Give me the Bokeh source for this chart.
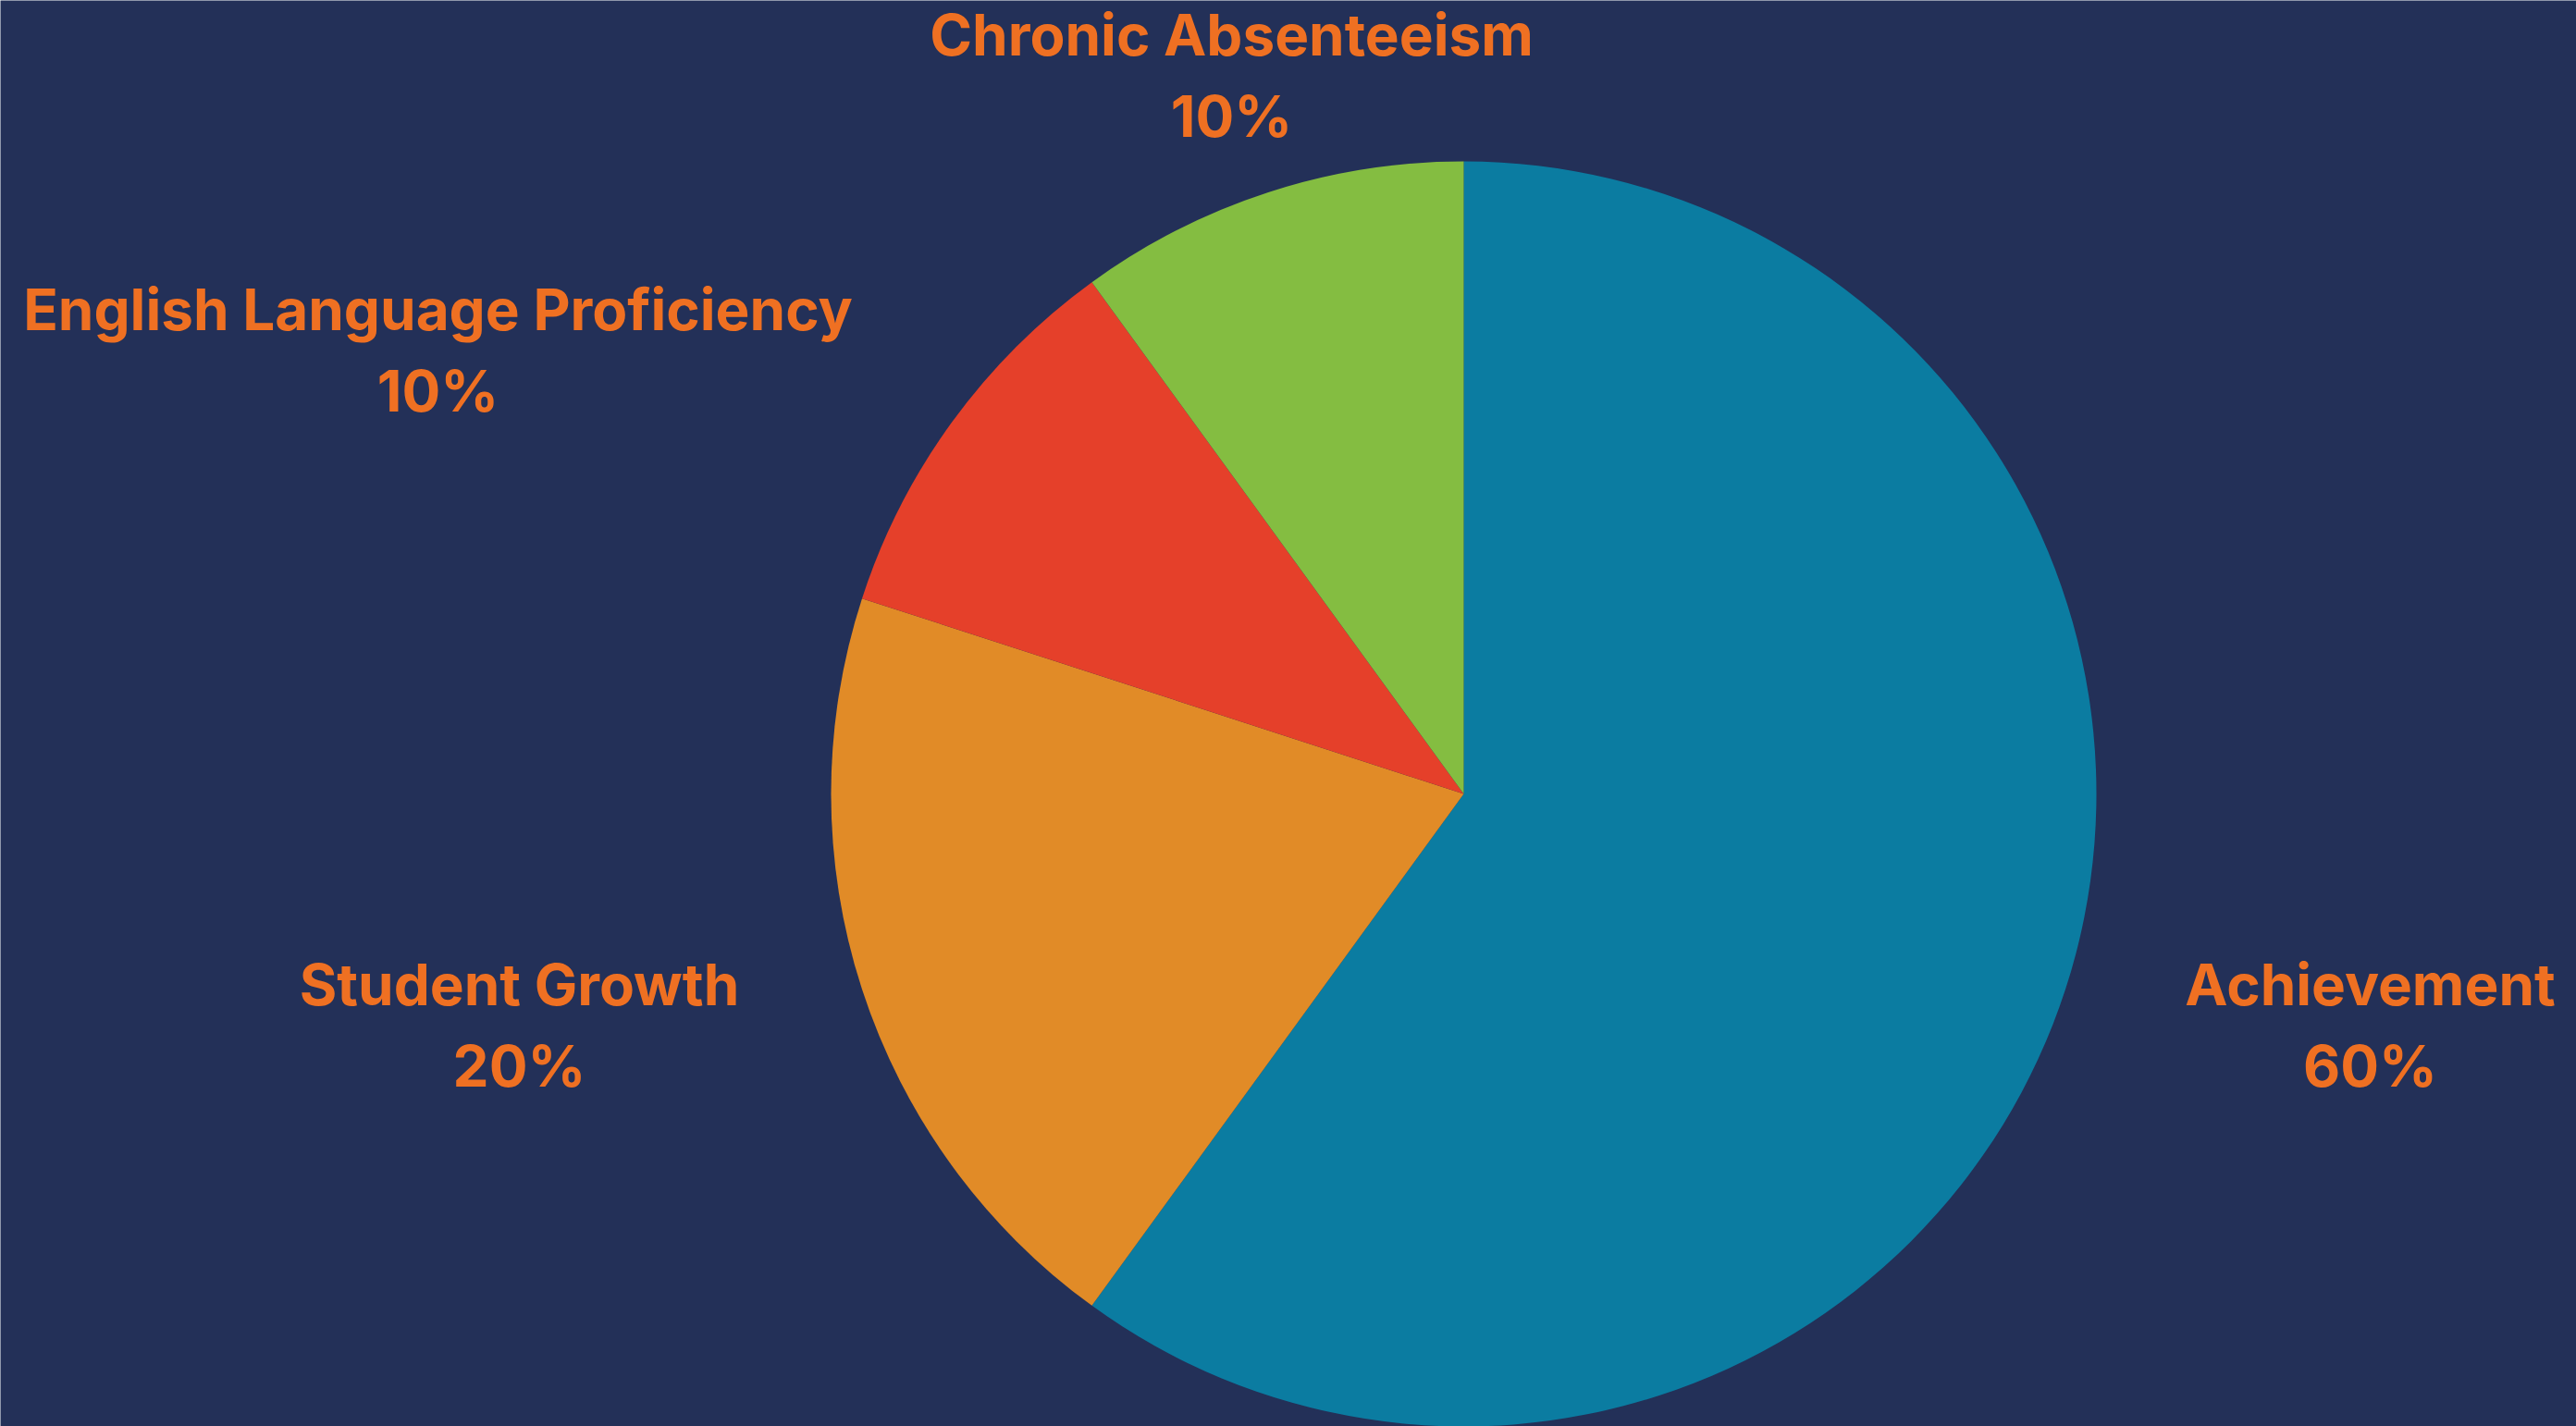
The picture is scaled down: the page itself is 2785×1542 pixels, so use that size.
import math
from bokeh.plotting import figure
from bokeh.models import Range1d, ColumnDataSource
from bokeh.core.properties import value
from bokeh.embed import file_html
from bokeh.resources import INLINE

# ---- data ----
categories = ["Achievement", "Student Growth", "English Language Proficiency", "Chronic Absenteeism"]
shares = [60, 20, 10, 10]
colors = ["#0b7ca1", "#e18b27", "#e5402a", "#84bd41"]

# ---- layout ----
W, H = 2785, 1542
cx, cy, r = 1582, H - 858, 684
# label anchor (pixel coords of the name line centre)
label_pos = [(2562, 1064), (561, 1064), (473, 334), (1331, 37)]
line_gap = 88

total = float(sum(shares))
starts, ends = [], []
acc = 0.0
for s in shares:
    starts.append(math.pi / 2 - 2 * math.pi * acc / total)
    acc += s
    ends.append(math.pi / 2 - 2 * math.pi * acc / total)

src = ColumnDataSource(dict(x=[cx] * len(shares), y=[cy] * len(shares),
                            start=starts, end=ends, color=colors))

p = figure(width=W, height=H, output_backend="svg", toolbar_location=None,
           x_range=Range1d(0, W), y_range=Range1d(0, H), min_border=0)
p.axis.visible = False
p.grid.visible = False
p.outline_line_color = None
p.background_fill_color = "#233058"
p.border_fill_color = "#233058"

p.wedge(x="x", y="y", radius=r, start_angle="start", end_angle="end",
        direction="clock", fill_color="color", line_color=None, source=src)

lx = [pos[0] for pos in label_pos]
ly_name = [H - pos[1] for pos in label_pos]
ly_pct = [H - pos[1] - line_gap for pos in label_pos]
pct_text = ["%d%%" % s for s in shares]

common = dict(text_align="center", text_baseline="middle", text_color="#ef7022",
              text_font=value("Inter"), text_font_style="bold", text_font_size="62px")
p.text(x=lx, y=ly_name, text=categories, **common)
p.text(x=lx, y=ly_pct, text=pct_text, **common)

open("out.html", "w").write(file_html(p, INLINE))
